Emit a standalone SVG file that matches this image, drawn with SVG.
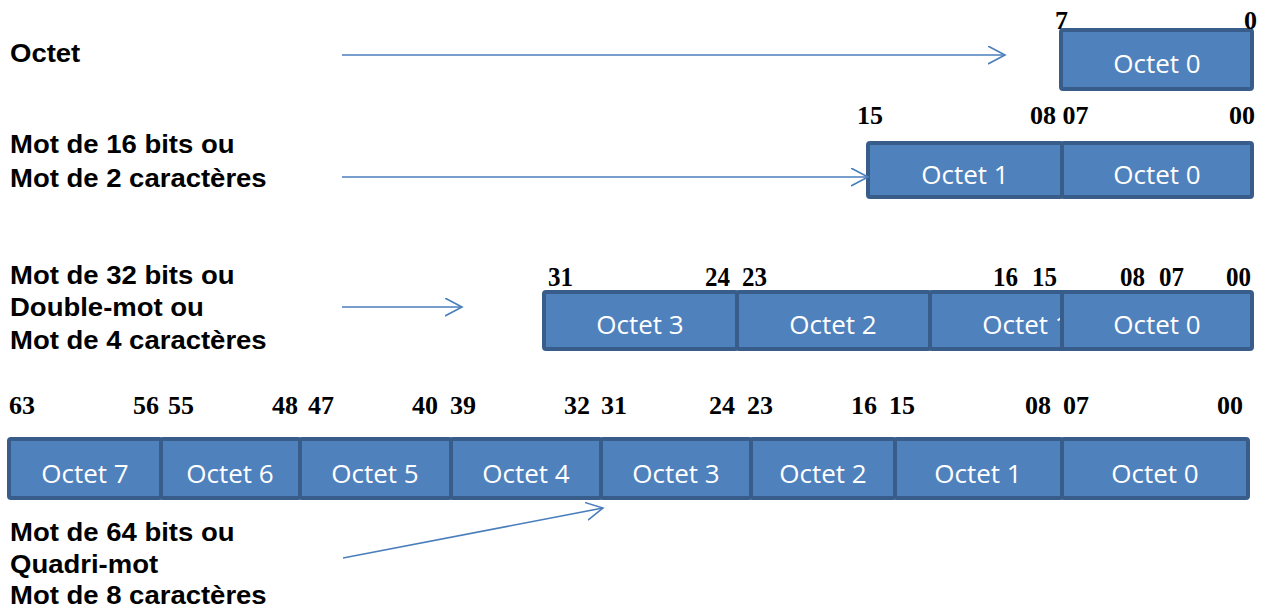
<svg xmlns="http://www.w3.org/2000/svg" width="1266" height="608" viewBox="0 0 1266 608">
<style>
.box{fill:#4F81BD;stroke:#385D8A;stroke-width:4}
.oct{font-family:"Open Sans","Liberation Sans",sans-serif;font-size:26px;fill:#FFFFFF;text-anchor:middle}
.lbl{font-family:"Liberation Sans",Arial,sans-serif;font-weight:bold;font-size:25px;fill:#000000}
.num{font-family:"Liberation Serif","Times New Roman",serif;font-weight:bold;font-size:26px;fill:#000000}
.n3{font-size:27px}
.n4{font-size:25px}
.conn{stroke:#4A7EBB;stroke-width:1.6;fill:none}
</style>
<defs>
<marker id="arr" markerUnits="userSpaceOnUse" markerWidth="20" markerHeight="20" refX="17" refY="9" orient="auto">
<path d="M0,0 L17,9 L0,18" fill="none" stroke="#4A7EBB" stroke-width="1.6"/>
</marker>
</defs>

<g id="labels">
<text class="lbl" transform="translate(10,62) scale(1.1,1)">Octet</text>
<text class="lbl" transform="translate(10,153) scale(1.1,1)">Mot de 16 bits ou</text>
<text class="lbl" transform="translate(10,187) scale(1.1,1)">Mot de 2 caractères</text>
<text class="lbl" transform="translate(10,284) scale(1.1,1)">Mot de 32 bits ou</text>
<text class="lbl" transform="translate(10,316) scale(1.1,1)">Double-mot ou</text>
<text class="lbl" transform="translate(10,349) scale(1.1,1)">Mot de 4 caractères</text>
<text class="lbl" transform="translate(10,541) scale(1.1,1)">Mot de 64 bits ou</text>
<text class="lbl" transform="translate(10,573) scale(1.1,1)">Quadri-mot</text>
<text class="lbl" transform="translate(10,604) scale(1.1,1)">Mot de 8 caractères</text>
</g>

<g id="row1">
<rect class="box" x="1061" y="30" width="191" height="59" rx="2"/>
<text class="oct" x="1157" y="73">Octet 0</text>
<text class="num" x="1055" y="29">7</text>
<text class="num" x="1257" y="29" text-anchor="end">0</text>
</g>

<g id="row2">
<rect class="box" x="868" y="143" width="194" height="54" rx="2"/>
<rect class="box" x="1062" y="143" width="190" height="54" rx="2"/>
<text class="oct" x="965" y="184">Octet 1</text>
<text class="oct" x="1157" y="184">Octet 0</text>
<text class="num" x="857" y="124">15</text>
<text class="num" x="1030" y="124">08 07</text>
<text class="num" x="1255" y="124" text-anchor="end">00</text>
</g>

<g id="row3">
<rect class="box" x="544" y="292" width="193" height="57" rx="2"/>
<rect class="box" x="737" y="292" width="193" height="57" rx="2"/>
<rect class="box" x="930" y="292" width="192" height="57" rx="2"/>
<text class="oct" x="640" y="334">Octet 3</text>
<text class="oct" x="833" y="334">Octet 2</text>
<text class="oct" x="1026" y="334">Octet 1</text>
<rect class="box" x="1062" y="292" width="190" height="57" rx="2"/>
<text class="oct" x="1157" y="334">Octet 0</text>
<text class="num n3" x="548" y="286" textLength="25" lengthAdjust="spacingAndGlyphs">31</text>
<text class="num n3" x="705" y="286" textLength="25" lengthAdjust="spacingAndGlyphs">24</text>
<text class="num n3" x="742" y="286" textLength="25" lengthAdjust="spacingAndGlyphs">23</text>
<text class="num n3" x="993" y="286" textLength="25" lengthAdjust="spacingAndGlyphs">16</text>
<text class="num n3" x="1032" y="286" textLength="25" lengthAdjust="spacingAndGlyphs">15</text>
<text class="num n3" x="1120" y="286" textLength="25" lengthAdjust="spacingAndGlyphs">08</text>
<text class="num n3" x="1159" y="286" textLength="25" lengthAdjust="spacingAndGlyphs">07</text>
<text class="num n3" x="1226" y="286" textLength="25" lengthAdjust="spacingAndGlyphs">00</text>
</g>

<g id="row4">
<rect class="box" x="9" y="439" width="152" height="59" rx="2"/>
<rect class="box" x="161" y="439" width="139" height="59" rx="2"/>
<rect class="box" x="300" y="439" width="151" height="59" rx="2"/>
<rect class="box" x="451" y="439" width="150" height="59" rx="2"/>
<rect class="box" x="601" y="439" width="150" height="59" rx="2"/>
<rect class="box" x="751" y="439" width="144" height="59" rx="2"/>
<rect class="box" x="895" y="439" width="167" height="59" rx="2"/>
<rect class="box" x="1062" y="439" width="186" height="59" rx="2"/>
<text class="oct" x="85" y="483">Octet 7</text>
<text class="oct" x="230" y="483">Octet 6</text>
<text class="oct" x="375" y="483">Octet 5</text>
<text class="oct" x="526" y="483">Octet 4</text>
<text class="oct" x="676" y="483">Octet 3</text>
<text class="oct" x="823" y="483">Octet 2</text>
<text class="oct" x="978" y="483">Octet 1</text>
<text class="oct" x="1155" y="483">Octet 0</text>
<text class="num n4" x="9" y="414" textLength="26" lengthAdjust="spacingAndGlyphs">63</text>
<text class="num n4" x="133" y="414" textLength="26" lengthAdjust="spacingAndGlyphs">56</text>
<text class="num n4" x="168" y="414" textLength="26" lengthAdjust="spacingAndGlyphs">55</text>
<text class="num n4" x="272" y="414" textLength="26" lengthAdjust="spacingAndGlyphs">48</text>
<text class="num n4" x="308" y="414" textLength="26" lengthAdjust="spacingAndGlyphs">47</text>
<text class="num n4" x="412" y="414" textLength="26" lengthAdjust="spacingAndGlyphs">40</text>
<text class="num n4" x="450" y="414" textLength="26" lengthAdjust="spacingAndGlyphs">39</text>
<text class="num n4" x="564" y="414" textLength="26" lengthAdjust="spacingAndGlyphs">32</text>
<text class="num n4" x="601" y="414" textLength="26" lengthAdjust="spacingAndGlyphs">31</text>
<text class="num n4" x="709" y="414" textLength="26" lengthAdjust="spacingAndGlyphs">24</text>
<text class="num n4" x="747" y="414" textLength="26" lengthAdjust="spacingAndGlyphs">23</text>
<text class="num n4" x="851" y="414" textLength="26" lengthAdjust="spacingAndGlyphs">16</text>
<text class="num n4" x="889" y="414" textLength="26" lengthAdjust="spacingAndGlyphs">15</text>
<text class="num n4" x="1025" y="414" textLength="26" lengthAdjust="spacingAndGlyphs">08</text>
<text class="num n4" x="1063" y="414" textLength="26" lengthAdjust="spacingAndGlyphs">07</text>
<text class="num n4" x="1217" y="414" textLength="26" lengthAdjust="spacingAndGlyphs">00</text>
</g>

<g id="connectors">
<line class="conn" x1="342" y1="55" x2="1005" y2="55" marker-end="url(#arr)"/>
<line class="conn" x1="342" y1="177" x2="868" y2="177" marker-end="url(#arr)"/>
<line class="conn" x1="342" y1="307" x2="462" y2="307" marker-end="url(#arr)"/>
<line class="conn" x1="343" y1="558" x2="603" y2="508" marker-end="url(#arr)"/>
</g>
</svg>
